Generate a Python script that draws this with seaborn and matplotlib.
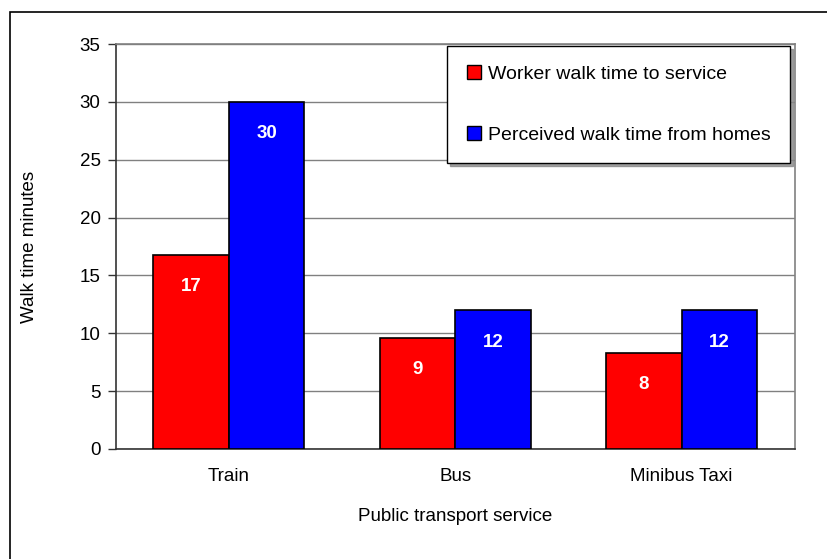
import matplotlib
matplotlib.use('Agg')
import matplotlib.pyplot as plt
from matplotlib.patches import Rectangle
from matplotlib.lines import Line2D
import seaborn as sns
from pandas import DataFrame

sns.set_style('white')
plt.rcParams['font.family'] = ['Liberation Sans', 'DejaVu Sans']
plt.rcParams['text.color'] = 'black'
plt.rcParams['axes.labelcolor'] = 'black'
plt.rcParams['xtick.color'] = 'black'
plt.rcParams['ytick.color'] = 'black'

services = ['Train', 'Bus', 'Minibus Taxi']
series = ['Worker walk time to service', 'Perceived walk time from homes']
worker = [16.8, 9.6, 8.3]
perceived = [30.0, 12.0, 12.0]
worker_labels = ['17', '9', '8']
perceived_labels = ['30', '12', '12']
colors = ['#ff0000', '#0000ff']

df = DataFrame({
    'service': services * 2,
    'series': [series[0]] * 3 + [series[1]] * 3,
    'minutes': worker + perceived,
})

fs = 13.5

fig = plt.figure(figsize=(8.27, 5.59), dpi=100)
ax = fig.add_axes([0.140, 0.197, 0.821, 0.724])

sns.barplot(data=df, x='service', y='minutes', hue='series', order=services,
            hue_order=series, palette=colors, width=0.667, edgecolor='black',
            linewidth=1.2, saturation=1, errorbar=None, ax=ax, zorder=3)

# data labels inside the top of each bar
for cont, labs in zip(ax.containers, [worker_labels, perceived_labels]):
    for p, lab in zip(cont.patches, labs):
        ax.annotate(lab, (p.get_x() + p.get_width() / 2, p.get_height()),
                    xytext=(0, -23), textcoords='offset points', ha='center',
                    va='center', color='white', fontweight='bold', fontsize=13.5,
                    zorder=5)

ax.set_ylim(0, 35)
ax.set_yticks(range(0, 36, 5))
ax.set_xlim(-0.5, 2.5)
ax.yaxis.grid(True, color='#808080', linewidth=1.0, zorder=0)
ax.set_axisbelow(True)

ax.set_xticks([0, 1, 2])
ax.set_xticks([-0.5, 0.5, 1.5, 2.5], minor=True)
ax.tick_params(axis='x', which='major', length=0, pad=14, labelsize=fs)
ax.tick_params(axis='x', which='minor', length=6, width=1, color='#333333', direction='out')
ax.tick_params(axis='y', length=6, width=1, color='#333333', direction='out', labelsize=fs, pad=5)
ax.tick_params(left=True, bottom=True)

for s in ['top', 'right']:
    ax.spines[s].set_color('#808080')
    ax.spines[s].set_linewidth(1.2)
for s in ['left', 'bottom']:
    ax.spines[s].set_color('#333333')
    ax.spines[s].set_linewidth(1.2)

ax.set_xlabel('Public transport service', fontsize=fs, labelpad=16)
ax.set_ylabel('Walk time minutes', fontsize=fs)
ax.yaxis.set_label_coords(-0.115, 0.5)

handles = [Line2D([], [], marker='s', linestyle='none', markersize=9.5,
                  markerfacecolor=c, markeredgecolor='black', markeredgewidth=1)
           for c in colors]
leg = ax.legend(handles, series, loc='upper right', bbox_to_anchor=(0.993, 0.995),
                fontsize=14, frameon=True, fancybox=False,
                shadow={'color': '#888888', 'alpha': 0.8},
                labelspacing=2.2, borderpad=1.0, handletextpad=0.3,
                handlelength=0.8, borderaxespad=0)
leg.get_frame().set_edgecolor('black')
leg.get_frame().set_linewidth(1.0)
leg.set_zorder(6)

# outer chart border
fig.patches.append(Rectangle((10 / 827, -0.05), 1.1, 1 - 12 / 559 + 0.05,
                             transform=fig.transFigure, fill=False,
                             edgecolor='black', linewidth=1.2))

fig.savefig('out.png', dpi=100)
